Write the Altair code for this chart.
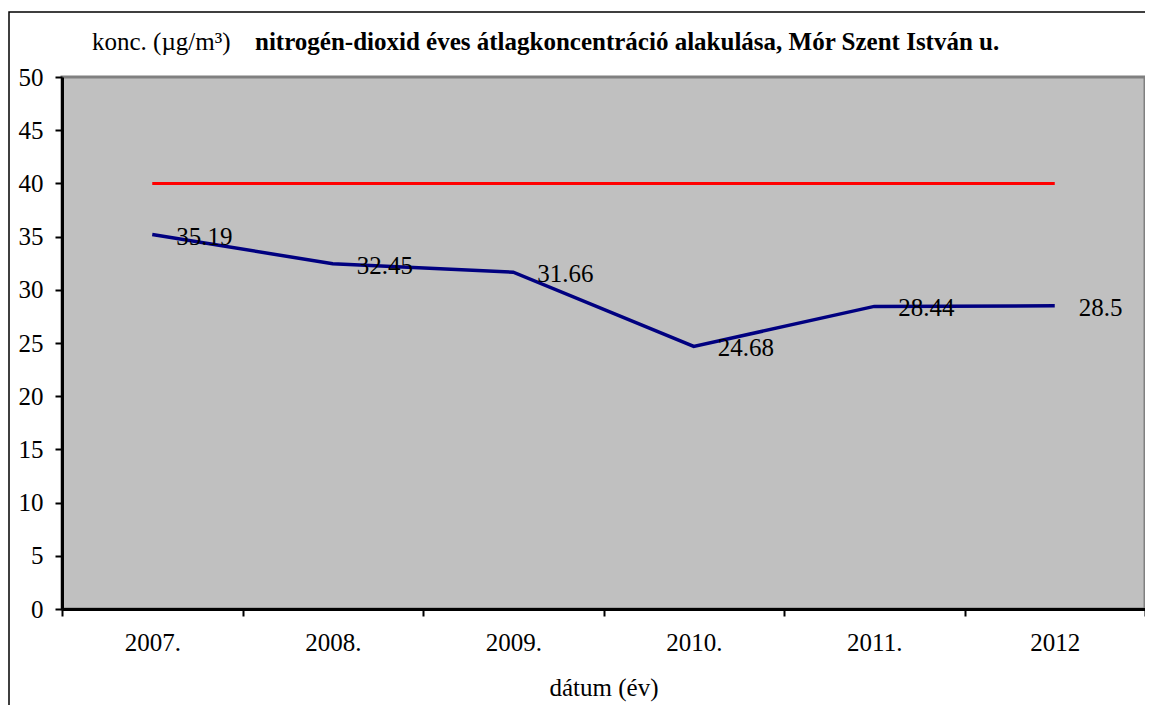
import altair as alt
import pandas as pd

years = ["2007.", "2008.", "2009.", "2010.", "2011.", "2012"]
values = [35.19, 32.45, 31.66, 24.68, 28.44, 28.5]
limit = [40, 40, 40, 40, 40, 40]
labels = ["35.19", "32.45", "31.66", "24.68", "28.44", "28.5"]

df = pd.DataFrame({"ev": years, "konc": values, "hatar": limit, "cimke": labels})

FONT = "Liberation Serif"
FS = 25

xenc = alt.X("ev:O", sort=years,
             scale=alt.Scale(type="band", paddingInner=0, paddingOuter=0),
             axis=alt.Axis(title="dátum (év)", labelAngle=0, tickBand="extent",
                           labelPadding=14, titlePadding=20))
yscale = alt.Scale(domain=[0, 50], nice=False)
yaxis = alt.Axis(title=None, values=list(range(0, 51, 5)), grid=False)

base = alt.Chart(df)

red = base.mark_line(color="#FF0000", strokeWidth=3).encode(
    x=xenc, y=alt.Y("hatar:Q", scale=yscale, axis=yaxis))
blue = base.mark_line(color="#000080", strokeWidth=3.5).encode(
    x=xenc, y=alt.Y("konc:Q", scale=yscale, axis=yaxis))
txt = base.mark_text(align="left", baseline="middle", dx=24, dy=2,
                     font=FONT, fontSize=FS, color="black").encode(
    x=xenc, y=alt.Y("konc:Q", scale=yscale), text="cimke:N")

title1 = alt.Chart(pd.DataFrame({"t": ["konc. (µg/m³)"]})).mark_text(
    align="left", baseline="middle", font=FONT, fontSize=FS, color="black").encode(
    x=alt.value(30), y=alt.value(-35), text="t:N")
title2 = alt.Chart(pd.DataFrame({"t": ["nitrogén-dioxid  éves  átlagkoncentráció alakulása, Mór Szent István  u."]})).mark_text(
    align="left", baseline="middle", font=FONT, fontSize=FS, fontWeight="bold", color="black").encode(
    x=alt.value(193), y=alt.value(-35), text="t:N")

frame = alt.Chart(pd.DataFrame({"a": [0]})).mark_rect(
    fill=None, stroke="black", strokeWidth=1.5, clip=False).encode(
    x=alt.value(-53), x2=alt.value(1095), y=alt.value(-65), y2=alt.value(650))

chart = alt.layer(frame, red, blue, txt, title1, title2).properties(
    width=1083, height=532,
    autosize=alt.AutoSizeParams(type="none"),
    padding={"left": 54, "top": 69, "right": 0, "bottom": 96},
).configure_view(
    fill="#C0C0C0", stroke="#808080", strokeWidth=3
).configure_axis(
    domainColor="black", domainWidth=3, tickColor="black", tickWidth=2,
    tickSize=7, labelFont=FONT, labelFontSize=FS, labelColor="black",
    titleFont=FONT, titleFontSize=FS, titleFontWeight="normal", titleColor="black"
).configure_axisY(labelPadding=12)

chart.save("out.html", embed_options={"renderer": "svg", "actions": False})
